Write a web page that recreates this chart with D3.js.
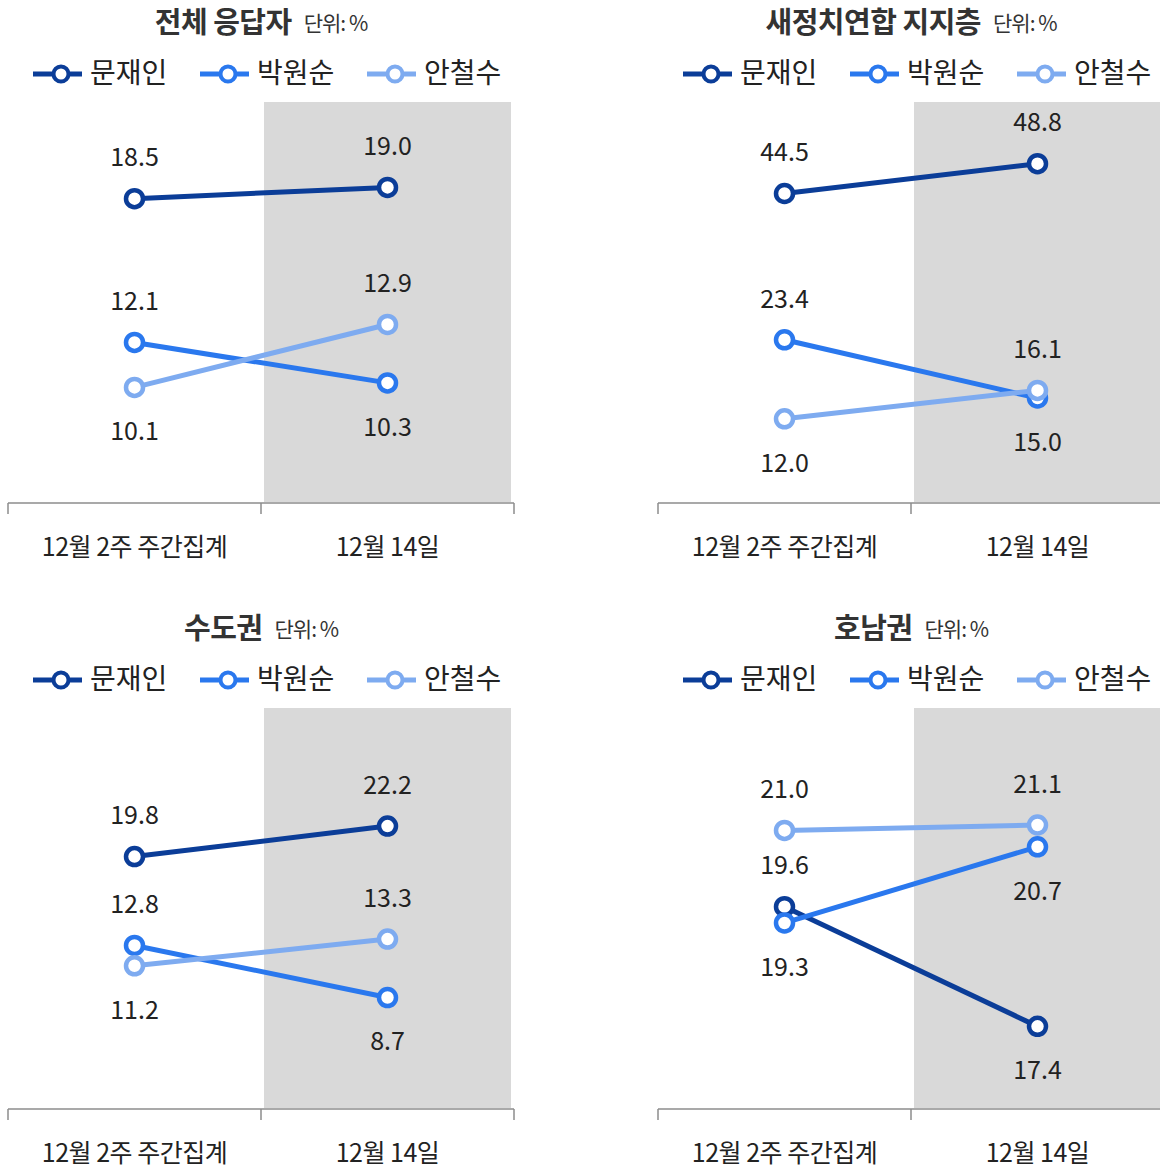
<!DOCTYPE html>
<html><head><meta charset="utf-8">
<script src="https://cdn.jsdelivr.net/npm/d3@7"></script>
<style>
body{margin:0;background:#fff;}
text{font-family:"Noto Sans CJK KR","Noto Sans",sans-serif;}
</style></head>
<body><svg id="c" width="1160" height="1169"></svg>
<script>
const categories = ["12월 2주 주간집계", "12월 14일"];
const panelTitles = ["전체 응답자", "새정치연합 지지층", "수도권", "호남권"];
const unitLabel = "단위: %";
const seriesNames = ["문재인", "박원순", "안철수"];
const moon = [[18.5, 19.0], [44.5, 48.8], [19.8, 22.2], [19.6, 17.4]];
const park = [[12.1, 10.3], [23.4, 15.0], [12.8, 8.7], [19.3, 20.7]];
const ahn  = [[10.1, 12.9], [12.0, 16.1], [11.2, 13.3], [21.0, 21.1]];
const yDomains = [[5, 22.8], [0, 57.7], [0, 31.5], [15.9, 23.25]];
// label placement: 1 = above marker, -1 = below
const moonLabelPos = [[1, 1], [1, 1], [1, 1], [1, -1]];
const parkLabelPos = [[1, -1], [1, -1], [1, -1], [-1, -1]];
const ahnLabelPos  = [[-1, 1], [-1, 1], [-1, 1], [1, 1]];

const colors = ["#0b3d98", "#2a78ee", "#7eabf0"];
const seriesVals = [moon, park, ahn];
const seriesPos = [moonLabelPos, parkLabelPos, ahnLabelPos];

const svg = d3.select("#c");

panelTitles.forEach((title, p) => {
  const col = p % 2, row = Math.floor(p / 2);
  const ox = 8 + col * 650, oy = row * 606;
  const g = svg.append("g").attr("transform", `translate(${ox},${oy})`);
  const W = 506, top = 102, bottom = 502;
  const x = d3.scaleBand().domain(categories).range([0, W]);
  const y = d3.scaleLinear().domain(yDomains[p]).range([bottom, top]);

  // shaded highlight
  g.append("rect").attr("x", x(categories[1]) + 3).attr("y", top)
    .attr("width", x.bandwidth() - 6).attr("height", bottom - top)
    .attr("fill", "#d9d9d9");

  // axis
  const ax = g.append("g").attr("transform", `translate(0,${bottom + 1})`);
  ax.append("line").attr("x1", 0).attr("x2", W).attr("stroke", "#8c8c8c").attr("stroke-width", 1.5);
  [0, x.bandwidth(), W].forEach(t => ax.append("line").attr("x1", t).attr("x2", t)
      .attr("y1", 0).attr("y2", 11).attr("stroke", "#8c8c8c").attr("stroke-width", 1.5));
  categories.forEach(c => ax.append("text").attr("x", x(c) + x.bandwidth() / 2).attr("y", 46)
      .attr("text-anchor", "middle").attr("dominant-baseline", "middle")
      .attr("font-size", 25).attr("fill", "#222").attr("letter-spacing", -0.5).text(c));

  // title
  const tg = g.append("text").attr("x", x.bandwidth()).attr("y", 25)
    .attr("text-anchor", "middle").attr("dominant-baseline", "middle").attr("fill", "#333");
  tg.append("tspan").attr("font-size", 29).attr("font-weight", "bold").attr("letter-spacing", -0.5).text(title);
  tg.append("tspan").attr("font-size", 21).attr("dx", 12).attr("letter-spacing", -1).text(unitLabel);

  // legend
  seriesNames.forEach((n, i) => {
    const lx = 25 + i * 167, ly = 74;
    g.append("line").attr("x1", lx).attr("x2", lx + 49).attr("y1", ly).attr("y2", ly)
      .attr("stroke", colors[i]).attr("stroke-width", 5);
    g.append("circle").attr("cx", lx + 28).attr("cy", ly).attr("r", 7.5)
      .attr("fill", "#fff").attr("stroke", colors[i]).attr("stroke-width", 4);
    g.append("text").attr("x", lx + 57).attr("y", ly + 1).attr("dominant-baseline", "middle")
      .attr("font-size", 28).attr("fill", "#222").text(n);
  });

  // series lines
  const line = d3.line().x((d, j) => x(categories[j]) + x.bandwidth() / 2).y(d => y(d));
  seriesVals.forEach((sv, i) => {
    g.append("path").datum(sv[p]).attr("d", line).attr("fill", "none")
      .attr("stroke", colors[i]).attr("stroke-width", 5);
  });
  seriesVals.forEach((sv, i) => {
    sv[p].forEach((v, j) => {
      const cx = x(categories[j]) + x.bandwidth() / 2;
      g.append("circle").attr("cx", cx).attr("cy", y(v)).attr("r", 8.5)
        .attr("fill", "#fff").attr("stroke", colors[i]).attr("stroke-width", 4.5);
      const pos = seriesPos[i][p][j];
      g.append("text").attr("x", cx).attr("y", y(v) + (pos > 0 ? -39 : 46))
        .attr("text-anchor", "middle").attr("dominant-baseline", "middle")
        .attr("font-size", 25).attr("fill", "#222").text(v.toFixed(1));
    });
  });
});
</script></body></html>
